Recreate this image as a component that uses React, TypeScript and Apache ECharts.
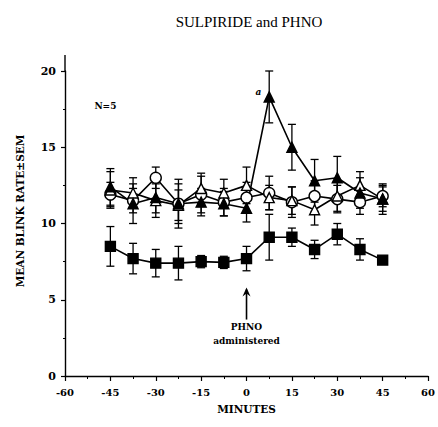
import React, { useEffect, useRef } from "react";
import * as echarts from "echarts";

const minutes = [-45, -37.5, -30, -22.5, -15, -7.5, 0, 7.5, 15, 22.5, 30, 37.5, 45];

const filledSquareMean = [8.5, 7.7, 7.4, 7.4, 7.5, 7.45, 7.7, 9.1, 9.1, 8.3, 9.3, 8.3, 7.6];
const filledSquareSem = [1.3, 1.0, 0.9, 1.1, 0.4, 0.4, 0.8, 1.5, 0.6, 0.6, 0.7, 0.7, 0.25];

const filledTriangleMean = [12.4, 11.3, 11.7, 11.3, 11.4, 11.3, 11.0, 18.3, 15.0, 12.8, 13.0, 12.0, 11.6];
const filledTriangleSem = [1.2, 1.3, 1.0, 1.6, 0.9, 0.8, 0.9, 1.7, 1.5, 1.4, 1.4, 1.0, 0.8];

const openCircleMean = [11.9, 11.5, 13.0, 11.3, 11.9, 11.4, 11.7, 12.0, 11.4, 11.8, 11.6, 11.4, 11.8];
const openCircleSem = [0.8, 0.8, 0.7, 1.3, 1.2, 0.9, 1.0, 1.1, 1.0, 1.0, 0.9, 0.8, 0.7];

const openTriangleMean = [12.2, 12.0, 11.5, 11.2, 12.3, 12.0, 12.5, 11.7, 11.5, 10.9, 11.8, 12.5, 11.6];
const openTriangleSem = [1.2, 1.0, 1.1, 1.0, 1.0, 0.9, 1.2, 0.8, 0.9, 1.0, 1.0, 0.9, 1.0];

const xTicks = [-60, -45, -30, -15, 0, 15, 30, 45, 60];
const yTicks = [0, 5, 10, 15, 20];

const SERIF = "'DejaVu Serif', serif";

function errData(mean: number[], sem: number[]) {
  return minutes.map((m, i) => [m, mean[i] - sem[i], mean[i] + sem[i]]);
}

function errSeries(name: string, mean: number[], sem: number[]) {
  return {
    type: "custom",
    name,
    data: errData(mean, sem),
    z: 1,
    renderItem: (params: any, api: any) => {
      const x = api.value(0);
      const lo = api.coord([x, api.value(1)]);
      const hi = api.coord([x, api.value(2)]);
      const w = 4;
      const st = { stroke: "#000", lineWidth: 1.3 };
      return {
        type: "group",
        children: [
          { type: "line", shape: { x1: lo[0], y1: lo[1], x2: hi[0], y2: hi[1] }, style: st },
          { type: "line", shape: { x1: hi[0] - w, y1: hi[1], x2: hi[0] + w, y2: hi[1] }, style: st },
          { type: "line", shape: { x1: lo[0] - w, y1: lo[1], x2: lo[0] + w, y2: lo[1] }, style: st },
        ],
      };
    },
  };
}

function lineSeries(name: string, mean: number[], symbol: string, fill: string, size: number) {
  return {
    type: "line",
    name,
    data: minutes.map((m, i) => [m, mean[i]]),
    symbol,
    symbolSize: size,
    showAllSymbol: true,
    z: 3,
    lineStyle: { color: "#000", width: 1.6 },
    itemStyle: { color: fill, borderColor: "#000", borderWidth: 1.4 },
  };
}

export default function App() {
  const ref = useRef<HTMLDivElement>(null);
  useEffect(() => {
    if (!ref.current) return;
    const chart = echarts.init(ref.current, undefined, { renderer: "svg" });
    const option: any = {
      animation: false,
      backgroundColor: "#fff",
      title: {
        text: "SULPIRIDE and PHNO",
        left: 244,
        top: 9,
        textAlign: "center",
        textStyle: { fontFamily: "'Liberation Serif', serif", fontSize: 15, fontWeight: "normal", color: "#000" },
      },
      grid: { left: 65, right: 8, top: 71, bottom: 51 },
      xAxis: {
        type: "value",
        min: -60,
        max: 60,
        interval: 15,
        splitLine: { show: false },
        axisLine: { onZero: false, lineStyle: { color: "#000", width: 1.4 } },
        axisTick: { length: 5, lineStyle: { color: "#000", width: 1.2 } },
        minorTick: { show: true, splitNumber: 2, length: 3, lineStyle: { color: "#000", width: 1 } },
        axisLabel: {
          color: "#000",
          fontFamily: SERIF,
          fontWeight: "bold",
          fontSize: 10,
          margin: 11,
          formatter: (v: number) => (xTicks.includes(v) ? String(v) : ""),
        },
        name: "MINUTES",
        nameLocation: "middle",
        nameGap: 27,
        nameTextStyle: { color: "#000", fontFamily: SERIF, fontWeight: "bold", fontSize: 10.5 },
      },
      yAxis: {
        type: "value",
        min: 0,
        max: 20,
        interval: 5,
        splitLine: { show: false },
        axisLine: { onZero: false, lineStyle: { color: "#000", width: 1.4 } },
        axisTick: { length: 4, lineStyle: { color: "#000", width: 1.2 } },
        minorTick: { show: true, splitNumber: 2, length: 2, lineStyle: { color: "#000", width: 1 } },
        axisLabel: {
          color: "#000",
          fontFamily: SERIF,
          fontWeight: "bold",
          fontSize: 11,
          margin: 9,
          formatter: (v: number) => (yTicks.includes(v) ? String(v) : ""),
        },
      },
      series: [
        errSeries("e1", filledSquareMean, filledSquareSem),
        errSeries("e2", filledTriangleMean, filledTriangleSem),
        errSeries("e3", openCircleMean, openCircleSem),
        errSeries("e4", openTriangleMean, openTriangleSem),
        lineSeries("Open circle", openCircleMean, "circle", "#fff", 11),
        lineSeries("Open triangle", openTriangleMean, "triangle", "#fff", 10),
        lineSeries("Filled triangle", filledTriangleMean, "triangle", "#000", 10),
        lineSeries("Filled square", filledSquareMean, "rect", "#000", 10),
      ],
    };
    chart.setOption(option);

    const top20 = chart.convertToPixel({ gridIndex: 0 }, [-60, 20]) as number[];
    const ann = chart.convertToPixel({ gridIndex: 0 }, [0, 5.8]) as number[];
    const nPos = chart.convertToPixel({ gridIndex: 0 }, [-45, 17.7]) as number[];
    const aPos = chart.convertToPixel({ gridIndex: 0 }, [3, 18.6]) as number[];
    chart.setOption({
      graphic: [
        { type: "line", shape: { x1: top20[0], y1: top20[1], x2: top20[0], y2: top20[1] - 16 }, style: { stroke: "#000", lineWidth: 1.4 } },
        { type: "text", x: 20, y: 211, rotation: Math.PI / 2, style: { text: "MEAN BLINK RATE±SEM", fontFamily: SERIF, fontWeight: "bold", fontSize: 10.5, fill: "#000", align: "center", verticalAlign: "middle" } },
        { type: "text", x: nPos[0] - 16, y: nPos[1], style: { text: "N=5", fontFamily: SERIF, fontWeight: "bold", fontSize: 9, fill: "#000", verticalAlign: "middle" } },
        { type: "text", x: aPos[0], y: aPos[1], style: { text: "a", fontFamily: SERIF, fontStyle: "italic", fontWeight: "bold", fontSize: 9, fill: "#000", verticalAlign: "middle" } },
        { type: "line", shape: { x1: ann[0], y1: ann[1] + 2, x2: ann[0], y2: ann[1] + 32 }, style: { stroke: "#000", lineWidth: 1.6 } },
        { type: "polygon", shape: { points: [[ann[0], ann[1]], [ann[0] - 4, ann[1] + 9], [ann[0], ann[1] + 6], [ann[0] + 4, ann[1] + 9]] }, style: { fill: "#000" } },
        { type: "text", x: ann[0], y: ann[1] + 39, style: { text: "PHNO", fontFamily: SERIF, fontWeight: "bold", fontSize: 9, fill: "#000", align: "center", verticalAlign: "middle" } },
        { type: "text", x: ann[0], y: ann[1] + 53, style: { text: "administered", fontFamily: SERIF, fontWeight: "bold", fontSize: 9, fill: "#000", align: "center", verticalAlign: "middle" } },
      ],
    });
    return () => chart.dispose();
  }, []);
  return <div ref={ref} style={{ position: "absolute", left: 0, top: 0, width: 438, height: 427 }} />;
}
